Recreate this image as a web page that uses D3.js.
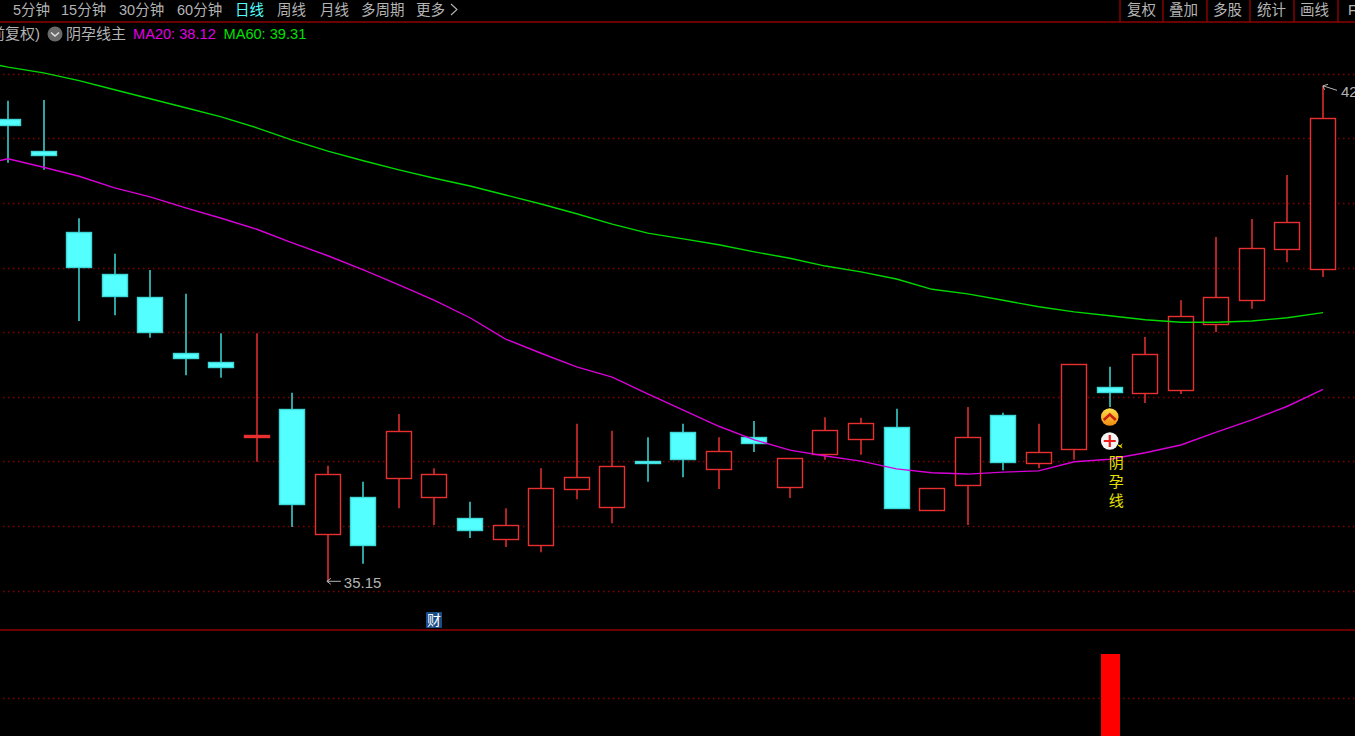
<!DOCTYPE html>
<html lang="zh">
<head>
<meta charset="utf-8">
<title>阴孕线主 日线</title>
<script src="https://cdn.jsdelivr.net/npm/d3@7/dist/d3.min.js"></script>
<style>
html,body{margin:0;padding:0;background:#000;overflow:hidden}
svg{display:block}
text{font-family:"Liberation Sans","Noto Sans CJK SC",sans-serif}
</style>
</head>
<body>
<svg id="c" width="1355" height="736"></svg>
<script>
// ---------- data ----------
const periods = ["5分钟","15分钟","30分钟","60分钟","日线","周线","月线","多周期","更多"];
const activePeriod = "日线";
const tools = ["复权","叠加","多股","统计","画线","F"];
const gridPrices = [35,36,37,38,39,40,41,42,43];

const opens  = [42.31,41.81,40.56,39.91,39.55,38.68,38.55,37.38,37.82,35.88,36.46,36.76,36.46,36.13,35.80,35.71,36.58,36.30,37.01,37.46,36.89,37.38,36.61,37.12,37.35,37.54,36.25,36.63,37.72,36.98,37.20,38.16,38.07,38.11,39.13,39.50,40.29,39.98];
const closes = [42.21,41.75,40.02,39.57,39.01,38.61,38.48,37.41,36.35,36.81,35.71,37.48,36.81,35.94,36.02,36.59,36.76,36.94,36.98,37.04,37.17,37.29,37.06,37.49,37.60,36.28,36.59,37.38,37.00,37.15,38.51,38.08,38.67,39.26,39.55,40.31,40.71,42.32];
const highs  = [42.59,42.60,40.77,40.22,39.97,39.60,38.99,38.99,38.07,36.94,36.69,37.74,36.90,36.38,36.28,36.90,37.59,37.48,37.38,37.59,37.38,37.63,37.06,37.69,37.68,37.82,36.59,37.85,37.76,37.59,38.51,38.47,38.93,39.50,40.48,40.76,41.44,42.82];
const lows   = [41.63,41.52,39.18,39.27,38.92,38.34,38.30,37.00,35.99,35.15,35.42,36.28,36.02,35.82,35.68,35.60,36.42,36.05,36.69,36.76,36.58,37.15,36.44,37.03,37.11,36.27,36.25,36.02,36.87,36.90,37.03,37.85,37.91,38.05,39.01,39.37,40.09,39.86];

// moving averages: first value belongs to the bar just left of the window
const ma20 = [41.58,41.69,41.56,41.42,41.24,41.10,40.93,40.77,40.60,40.39,40.19,39.97,39.74,39.50,39.23,38.90,38.68,38.47,38.31,38.05,37.80,37.55,37.34,37.18,37.09,37.01,36.89,36.83,36.81,36.84,36.86,37.00,37.04,37.14,37.26,37.46,37.65,37.86,38.12];
const ma60 = [43.22,43.11,43.02,42.90,42.76,42.62,42.48,42.34,42.17,41.98,41.81,41.66,41.52,41.39,41.27,41.13,40.99,40.84,40.68,40.54,40.45,40.36,40.25,40.15,40.03,39.94,39.83,39.67,39.60,39.50,39.40,39.32,39.26,39.20,39.16,39.16,39.18,39.23,39.31];

const signalIndex = [31];      // bar carrying the 阴孕线 signal
const signalValue = [1];
const lowLabel = "35.15", highLabel = "42.82";
const signalText = ["阴","孕","线"];

// ---------- scales ----------
const x = d3.scaleLinear().domain([0,37]).range([8,1323]);
const y = d3.scaleLinear().domain([35,43]).range([591,74.2]);
const yLow = d3.scaleLinear().domain([0,1]).range([744,654]);

const RED="#e93030", CYAN="#54ffff", GRID="#800000", FRAME="#8f0000", TXT="#b4b4b4";
const svg = d3.select("#c");

// ---------- grid and frames ----------
const grid = svg.append("g").attr("stroke",GRID).attr("stroke-width",1.4).attr("stroke-dasharray","1.5 3.5");
grid.selectAll("line.p").data(gridPrices).join("line").attr("class","p")
  .attr("x1",3).attr("x2",1355).attr("y1",d=>Math.floor(y(d))+.5).attr("y2",d=>Math.floor(y(d))+.5);
grid.append("line").attr("x1",3).attr("x2",1355)
  .attr("y1",yLow(0.5)).attr("y2",yLow(0.5)).attr("transform","translate(0,-0.5)");

svg.append("line").attr("x1",0).attr("x2",1355).attr("y1",22).attr("y2",22).attr("stroke",FRAME).attr("stroke-width",1.6);
svg.append("line").attr("x1",0).attr("x2",1355).attr("y1",630).attr("y2",630).attr("stroke",FRAME).attr("stroke-width",1.6);

// ---------- header ----------
const periodX = [13,61,119,177,235,277,320,361,416];
svg.append("g").selectAll("text").data(periods).join("text")
  .attr("x",(d,i)=>periodX[i]).attr("y",15).attr("font-size",14.5)
  .attr("fill",d=>d===activePeriod?"#54ffff":TXT).text(d=>d);
svg.append("path").attr("d","M451 4l6 5.5l-6 5.5").attr("fill","none").attr("stroke",TXT).attr("stroke-width",1.1);

const toolX = [1127,1169,1213,1257,1300,1348];
svg.append("g").selectAll("text").data(tools).join("text")
  .attr("x",(d,i)=>toolX[i]).attr("y",15).attr("font-size",14.5).attr("fill",TXT).text(d=>d);
svg.append("g").selectAll("line").data([1120,1163,1207,1250,1294,1338]).join("line")
  .attr("x1",d=>d).attr("x2",d=>d).attr("y1",0).attr("y2",22).attr("stroke",FRAME).attr("stroke-width",1.4);

svg.append("text").attr("x",-10).attr("y",39).attr("font-size",15).attr("fill",TXT).text("前复权)");
svg.append("circle").attr("cx",55).attr("cy",34).attr("r",7.5).attr("fill","#6a6a6a");
svg.append("path").attr("d","M51 32.5l4 3.5l4-3.5").attr("fill","none").attr("stroke","#e0e0e0").attr("stroke-width",1.5);
svg.append("text").attr("x",66).attr("y",39).attr("font-size",15).attr("fill",TXT).text("阴孕线主");
svg.append("text").attr("x",133).attr("y",39).attr("font-size",14.6).attr("fill","#e000e0")
  .text("MA20: "+ma20[ma20.length-1].toFixed(2));
svg.append("text").attr("x",223.5).attr("y",39).attr("font-size",14.6).attr("fill","#00e000")
  .text("MA60: "+ma60[ma60.length-1].toFixed(2));

// ---------- candles ----------
const bars = d3.range(opens.length).map(i=>({i,o:opens[i],c:closes[i],h:highs[i],l:lows[i],up:closes[i]>=opens[i]}));
const cg = svg.append("g").selectAll("g").data(bars).join("g");
cg.append("line")
  .attr("x1",d=>Math.round(x(d.i))).attr("x2",d=>Math.round(x(d.i)))
  .attr("y1",d=>y(d.h)).attr("y2",d=>y(d.l))
  .attr("stroke",d=>d.up?RED:"#3fd8d8").attr("stroke-width",1.5);
const bw = 25;
const bodyTop = d=>Math.round(y(Math.max(d.o,d.c)))+.5;
const bodyH = d=>Math.max(1,Math.round(Math.abs(y(d.o)-y(d.c))));
cg.append("rect")
  .attr("x",d=>Math.round(x(d.i))-bw/2).attr("width",bw)
  .attr("y",bodyTop)
  .attr("height",bodyH)
  .attr("fill",d=>d.up&&bodyH(d)>2?"#000":(d.up?RED:CYAN))
  .attr("stroke",d=>d.up?RED:"#3fd8d8").attr("stroke-width",1.4);

// ---------- moving averages ----------
const line = d3.line().x((d,i)=>x(i-1)).y(d=>y(d));
svg.append("path").datum(ma60).attr("d",line).attr("fill","none").attr("stroke","#00d800").attr("stroke-width",1.4);
svg.append("path").datum(ma20).attr("d",line).attr("fill","none").attr("stroke","#d800d8").attr("stroke-width",1.4);

// ---------- extreme labels ----------
const lowIdx = lows.indexOf(d3.min(lows)), highIdx = highs.indexOf(d3.max(highs));
const lx = x(lowIdx)-1, ly = y(d3.min(lows));
svg.append("path").attr("d",`M${lx} ${ly}h14M${lx} ${ly}l4 -3M${lx} ${ly}l4 3`).attr("fill","none").attr("stroke",TXT).attr("stroke-width",1);
svg.append("text").attr("x",lx+17).attr("y",ly+7).attr("font-size",15).attr("fill",TXT).text(lowLabel);
const hx = x(highIdx), hy = y(d3.max(highs));
svg.append("path").attr("d",`M${hx} ${hy}l14 4.5M${hx} ${hy}l5 -1.5M${hx} ${hy}l1.5 4`).attr("fill","none").attr("stroke",TXT).attr("stroke-width",1);
svg.append("text").attr("x",hx+18).attr("y",hy+11).attr("font-size",15).attr("fill",TXT).text(highLabel);

// ---------- finance badge ----------
svg.append("rect").attr("x",426).attr("y",612).attr("width",16).attr("height",16).attr("rx",1).attr("fill","#1b4c86");
svg.append("text").attr("x",434).attr("y",625).attr("text-anchor","middle").attr("font-size",14).attr("fill","#fff").text("财");

// ---------- signal marks ----------
const defs = svg.append("defs");
const gold = defs.append("linearGradient").attr("id","gold").attr("x1",0).attr("x2",0).attr("y1",0).attr("y2",1);
gold.append("stop").attr("offset",0).attr("stop-color","#ffe04a");
gold.append("stop").attr("offset",1).attr("stop-color","#f08a10");
const sg = svg.append("g").selectAll("g").data(signalIndex).join("g")
  .attr("transform",d=>`translate(${x(d)},0)`);
sg.append("circle").attr("cy",417).attr("r",8.8).attr("fill","url(#gold)");
sg.append("path").attr("d","M-6 420l6-5.5l6 5.5").attr("fill","none").attr("stroke","#c81e14").attr("stroke-width",2.4);
sg.append("circle").attr("cy",441).attr("r",8.8).attr("fill","#f4f4f4");
sg.append("path").attr("d","M-6 441h12M0 435v12").attr("stroke","#ee1c1c").attr("stroke-width",2.2);
sg.append("path").attr("d","M6.5 444l4 1.2l2.5-2.2l-1.4 3l1.2 2.6l-3.2-1.8z").attr("fill","#e6d800");
sg.selectAll("text").data(signalText).join("text")
  .attr("x",6.5).attr("y",(d,i)=>468+i*19).attr("text-anchor","middle")
  .attr("font-size",15).attr("fill","#e6e000").text(d=>d);

// ---------- lower panel ----------
svg.append("g").selectAll("rect").data(signalValue).join("rect")
  .attr("x",(d,i)=>Math.round(x(signalIndex[i]))-9).attr("width",19)
  .attr("y",d=>yLow(d)).attr("height",d=>yLow(0)-yLow(d))
  .attr("fill","#ff0000");
</script>
</body>
</html>
